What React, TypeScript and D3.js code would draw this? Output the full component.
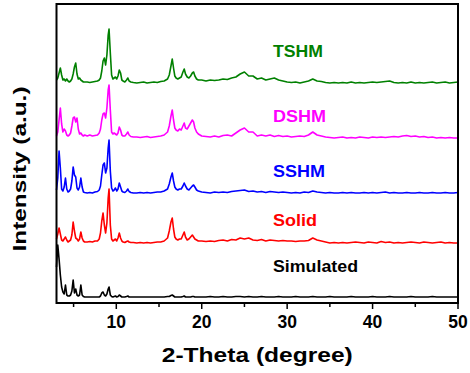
import * as d3 from 'd3';

// 2-theta sampling (denser where the peaks sit)
const twoTheta = [
  3.0, 3.15, 3.3, 3.45, 3.6, 3.75, 3.9, 4.05, 4.2, 4.35, 4.5, 4.65, 4.8, 4.95, 5.1, 5.25, 5.4, 5.55, 5.7, 5.85, 6.0, 6.15, 6.3,
  6.6, 6.9, 7.2, 7.5, 7.8,
  8.0, 8.15, 8.3, 8.45, 8.6, 8.75, 8.9, 9.05, 9.15, 9.3, 9.45, 9.6, 9.75, 9.9, 10.05, 10.2, 10.35, 10.5, 10.65, 10.8,
  11.0, 11.2, 11.35, 11.5, 11.7, 12.0,
  12.4, 12.8, 13.2, 13.6, 14.0, 14.4, 14.8, 15.2, 15.6, 16.0,
  16.2, 16.4, 16.55, 16.7, 16.85, 17.0, 17.2, 17.4, 17.6, 17.8, 17.95, 18.1, 18.3, 18.5, 18.7, 18.9, 19.05, 19.2, 19.4, 19.6,
  20.0, 20.5, 21.0, 21.5, 22.0, 22.5, 23.0, 23.5, 24.0, 24.5,
  25.0, 25.5, 26.0, 26.5, 27.0, 27.5, 28.0, 28.5, 29.0, 29.5,
  30.0, 30.5, 31.0, 31.5, 32.0, 32.5, 33.0, 33.5, 34.0, 34.5,
  35.0, 35.5, 36.0, 36.5, 37.0, 37.5, 38.0, 38.5, 39.0, 39.5,
  40.0, 40.5, 41.0, 41.5, 42.0, 42.5, 43.0, 43.5, 44.0, 44.5,
  45.0, 45.5, 46.0, 46.5, 47.0, 47.5, 48.0, 48.5, 49.0, 49.5,
  50.0,
];

const simulated = [
  30, 52, 38, 22, 10, 5, 3, 12, 2, 1, 1, 2, 6, 17, 4, 8, 2, 1, 2, 12, 2, 0.5, 0,
  0, 0, 0, 0, 0,
  0, 1, 4, 5, 2, 1, 3, 8, 10, 2, 0.5, 0, 0.5, 1, 0, 0.5, 2, 1, 0, 0,
  0, 0.5, 1, 0, 0, 0,
  0, 0, 0, 0, 0, 0, 0, 0, 0, 0.5,
  0.5, 1.5, 2, 1, 0, 0, 0, 0, 0, 0.5, 1, 0, 0, 0, 0, 0.5, 0.5, 0, 0, 0,
  0, 0, 0.5, 0, 0, 0.5, 0, 0, 0.5, 0.5,
  0, 0.5, 0, 0, 0.5, 0, 0, 0, 0.5, 0,
  0, 0, 0.5, 0, 0, 0, 0.5, 0, 0, 0,
  0.5, 0, 0, 0, 0, 0.5, 0, 0, 0, 0,
  0.5, 0, 0, 0, 0.5, 0, 0, 0, 0, 0.5,
  0, 0, 0, 0, 0.5, 0, 0, 0, 0, 0,
  0,
];

const solid = [
  4, 9, 15, 9, 3, 2, 4, 6, 3, 1, 2, 3, 8, 21, 12, 5, 4, 2, 4, 11, 5, 2, 1,
  1, 1.5, 1, 2, 2,
  4, 10, 22, 30, 18, 10, 20, 45, 54, 18, 4, 2, 3, 4, 2, 5, 10, 5, 2, 1,
  0.5, 1.5, 2, 1, 0.5, 0.5,
  0, 0.5, 0, 0.5, 0, 0.5, 1, 1, 2, 5,
  12, 21, 25, 14, 6, 4, 3, 4, 4, 8, 11, 6, 3, 4, 6, 8, 6, 4, 3, 2,
  2, 1.5, 2, 1.5, 2.5, 3, 2, 3.5, 3, 5,
  4, 5, 3, 2.5, 3.5, 2, 3, 2.5, 2, 2.5,
  2, 2, 1.5, 2, 2, 2.5, 5, 3, 2, 1,
  0, 0.5, 0, 0.5, 0, 0.5, 1, 0.5, 0, 1,
  0.5, 0, 1.5, 0.5, 1, 0, 0.5, 0, 0.5, 1,
  0.5, 0, 1, 0.5, 0, 0.5, 1, 0, 0.5, 0,
  0,
];

const sshm = [
  3, 15, 42, 25, 4, 2, 6, 15, 4, 1, 2, 4, 12, 26, 18, 16, 5, 3, 6, 15, 6, 1, 0.5,
  0, 0.5, 0, 1, 1.5,
  3, 7, 18, 28, 30, 20, 25, 45, 53, 22, 5, 2, 3, 5, 2, 4, 10, 6, 2, 1,
  0.5, 2, 4, 1.5, 0.5, 0,
  0, 0.5, 0, 0.5, 0, 0.5, 1, 1, 2, 4,
  9, 16, 20, 12, 6, 4, 3, 4, 4, 7, 10, 7, 4, 3, 5, 7, 8, 6, 3, 2,
  1, 0.5, 0, 1, 0.5, 1, 0.5, 1.5, 2, 2.5,
  3, 1.5, 2, 1, 1.5, 0.5, 1.5, 1, 0.5, 1,
  0.5, 0, 0.5, 0, 1, 0.5, 2, 1, 0.5, 0,
  0.5, 0, 0, 0.5, 0, 0.5, 0, 0, 0.5, 0,
  0.5, 0, 0.5, 1, 0, 0.5, 0, 0, 0.5, 0,
  0, 0.5, 0, 0, 0.5, 0, 0, 0.5, 0, 0,
  0.5,
];

const dshm = [
  2, 6, 18, 30, 14, 6, 9, 7, 3, 2, 3, 5, 12, 20, 21, 16, 20, 9, 4, 5, 3, 2, 3,
  2, 3, 2, 2.5, 3,
  5, 9, 18, 24, 25, 20, 30, 48, 53, 28, 6, 4, 5, 4, 3, 5, 11, 8, 3, 2,
  2, 4, 6, 3, 1.5, 1,
  1, 0.5, 1, 1.5, 0.5, 1, 1.5, 2, 3, 6,
  12, 22, 28, 18, 10, 8, 7, 9, 8, 12, 15, 10, 9, 12, 15, 18, 16, 10, 6, 4,
  2, 1.5, 1, 2, 1, 2.5, 3, 2, 5, 8,
  10, 6, 6, 2, 3, 2, 3, 1.5, 2.5, 1.5,
  2, 1, 1.5, 2, 1.5, 3, 6, 3, 2, 1,
  0.5, 0, 0.5, 1, 0, 0.5, 0, 1, 0.5, 0,
  1, 0.5, 1, 0.5, 1, 1.5, 1, 2, 2.5, 1.5,
  2, 1, 1.5, 0.5, 1, 0, 0.5, 0, 0.5, 0,
  0,
];

const tshm = [
  3, 5, 10, 15, 8, 3, 4, 2, 4, 2, 1, 2, 4, 9, 16, 20, 9, 4, 5, 3, 2, 1, 1,
  1, 0.5, 1, 1.5, 2,
  3, 5, 12, 22, 25, 18, 28, 48, 54, 30, 8, 4, 5, 6, 4, 7, 13, 10, 3, 2,
  1, 3, 5, 2, 1, 0.5,
  0, 0.5, 1, 0, 0.5, 1, 0.5, 1.5, 2, 4,
  8, 17, 24, 15, 7, 5, 4, 5, 6, 11, 14, 9, 6, 5, 7, 10, 11, 7, 4, 3,
  3, 2, 3, 2.5, 3, 4, 3.5, 5, 6, 9,
  11, 7, 7, 4, 5, 3, 4, 5, 3, 2,
  1, 0.5, 1, 0, 1, 2, 4, 2, 1.5, 0.5,
  0, 0.5, 0, 0.5, 0, 1, 0, 0.5, 0, 0.5,
  1, 0.5, 1, 1.5, 2, 0.5, 0, 0.5, 0, 1,
  0, 0.5, 0, 0.5, 1, 0, 0.5, 1, 0, 0.5,
  1,
];

const seriesNames = ['Simulated', 'Solid', 'SSHM', 'DSHM', 'TSHM'];
const seriesValues = [simulated, solid, sshm, dshm, tshm];
// vertical stacking offset of each pattern (a.u.)
const seriesOffsets = [6, 60, 110, 165, 220];
const seriesColors = ['#000000', '#ff0000', '#0000ff', '#ff00ff', '#008000'];

const xTicks = [10, 20, 30, 40, 50];
const xMinorTicks = [5, 15, 25, 35, 45];

const WIDTH = 470;
const HEIGHT = 373;
const margin = { left: 56.5, right: 12, top: 4, bottom: 70 };
const labelBaselines = [272, 226, 177, 122, 57];
const labelWidths = [85, 44, 52, 53, 50];
const FONT = '"Liberation Sans", Arial, Helvetica, sans-serif';

export default function App() {
  const plotBottom = HEIGHT - margin.bottom;
  const x = d3.scaleLinear().domain([3, 50]).range([margin.left, WIDTH - margin.right]);
  const y = d3.scaleLinear().domain([0, 299]).range([plotBottom, margin.top]);

  const line = (vals: number[], off: number) =>
    d3.line<number>()
      .x((_, i) => x(twoTheta[i]))
      .y((d) => y(d + off))(vals) ?? '';

  return (
    <svg
      width={WIDTH}
      height={HEIGHT}
      style={{ position: 'absolute', left: 0, top: 0, background: '#fff' }}
      fontFamily={FONT}
      fontWeight="bold"
    >
      {seriesValues.map((vals, i) => (
        <path
          key={seriesNames[i]}
          d={line(vals, seriesOffsets[i])}
          fill="none"
          stroke={seriesColors[i]}
          strokeWidth={1.6}
          strokeLinejoin="round"
        />
      ))}

      {seriesNames.map((name, i) => (
        <text
          key={name}
          x={273}
          y={labelBaselines[i]}
          fill={seriesColors[i]}
          fontSize={17}
          textLength={labelWidths[i]}
          lengthAdjust="spacingAndGlyphs"
        >
          {name}
        </text>
      ))}

      <rect
        x={margin.left}
        y={margin.top}
        width={WIDTH - margin.right - margin.left}
        height={plotBottom - margin.top}
        fill="none"
        stroke="#000"
        strokeWidth={2}
      />

      {xTicks.map((t) => (
        <g key={t}>
          <line x1={x(t)} x2={x(t)} y1={plotBottom} y2={plotBottom + 6} stroke="#000" strokeWidth={1.5} />
          <text x={x(t)} y={328} textAnchor="middle" fontSize={17.5}>{t}</text>
        </g>
      ))}
      {xMinorTicks.map((t) => (
        <line key={t} x1={x(t)} x2={x(t)} y1={plotBottom} y2={plotBottom + 4} stroke="#000" strokeWidth={1.5} />
      ))}

      <text
        x={(margin.left + WIDTH - margin.right) / 2}
        y={362}
        textAnchor="middle"
        fontSize={20}
        textLength={191}
        lengthAdjust="spacingAndGlyphs"
      >
        2-Theta (degree)
      </text>
      <text
        transform="translate(26,169) rotate(-90)"
        textAnchor="middle"
        fontSize={18}
        textLength={165}
        lengthAdjust="spacingAndGlyphs"
      >
        Intensity (a.u.)
      </text>
    </svg>
  );
}
